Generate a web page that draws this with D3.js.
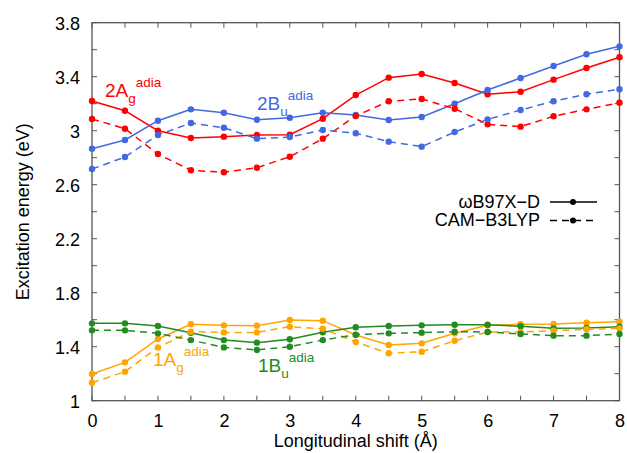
<!DOCTYPE html>
<html>
<head>
<meta charset="utf-8">
<script src="https://cdn.jsdelivr.net/npm/d3@7"></script>
<style>
  html, body { margin: 0; padding: 0; background: #fff; }
  svg { display: block; font-family: "Liberation Sans", Arial, Helvetica, sans-serif; }
</style>
</head>
<body>
<svg id="chart" width="627" height="453"></svg>
<script>
// ---- data ----
const shifts = [0, 0.5, 1, 1.5, 2, 2.5, 3, 3.5, 4, 4.5, 5, 5.5, 6, 6.5, 7, 7.5, 8];

const ag2_wb97xd = [3.22, 3.148, 3.0, 2.946, 2.956, 2.968, 2.97, 3.089, 3.264, 3.393, 3.42, 3.353, 3.27, 3.289, 3.378, 3.464, 3.544];
const ag2_camb3lyp = [3.087, 3.015, 2.827, 2.707, 2.692, 2.726, 2.807, 2.941, 3.109, 3.218, 3.235, 3.163, 3.047, 3.03, 3.107, 3.158, 3.207];
const bu2_wb97xd = [2.867, 2.931, 3.074, 3.158, 3.133, 3.081, 3.096, 3.133, 3.116, 3.079, 3.101, 3.2, 3.301, 3.39, 3.479, 3.566, 3.625];
const bu2_camb3lyp = [2.716, 2.805, 2.968, 3.057, 3.022, 2.941, 2.953, 3.005, 2.981, 2.919, 2.882, 2.99, 3.084, 3.153, 3.218, 3.27, 3.307];
const ag1_wb97xd = [1.198, 1.284, 1.457, 1.566, 1.558, 1.556, 1.598, 1.593, 1.487, 1.413, 1.425, 1.499, 1.558, 1.566, 1.568, 1.578, 1.585];
const ag1_camb3lyp = [1.133, 1.215, 1.395, 1.511, 1.506, 1.506, 1.548, 1.533, 1.435, 1.351, 1.363, 1.444, 1.509, 1.509, 1.519, 1.529, 1.536];
const bu1_wb97xd = [1.573, 1.573, 1.553, 1.503, 1.449, 1.43, 1.455, 1.507, 1.544, 1.553, 1.558, 1.563, 1.563, 1.551, 1.536, 1.538, 1.548];
const bu1_camb3lyp = [1.521, 1.521, 1.499, 1.449, 1.395, 1.376, 1.4, 1.449, 1.489, 1.499, 1.504, 1.511, 1.509, 1.494, 1.482, 1.482, 1.494];

const xTickLabels = [0, 1, 2, 3, 4, 5, 6, 7, 8];
const yTickLabels = [1, 1.4, 1.8, 2.2, 2.6, 3, 3.4, 3.8];
const methods = ["ωB97X−D", "CAM−B3LYP"];

const series = [
  { name: "2Ag", values: ag2_wb97xd, color: "#ff0000", method: 0 },
  { name: "2Bu", values: bu2_wb97xd, color: "#4169e1", method: 0 },
  { name: "1Ag", values: ag1_wb97xd, color: "#ffa500", method: 0 },
  { name: "1Bu", values: bu1_wb97xd, color: "#228b22", method: 0 },
  { name: "2Ag", values: ag2_camb3lyp, color: "#ff0000", method: 1 },
  { name: "2Bu", values: bu2_camb3lyp, color: "#4169e1", method: 1 },
  { name: "1Ag", values: ag1_camb3lyp, color: "#ffa500", method: 1 },
  { name: "1Bu", values: bu1_camb3lyp, color: "#228b22", method: 1 }
];

// ---- layout ----
const L = 92, R = 619.5, T = 22.7, B = 400.7;
const FS = 18;
const svg = d3.select("#chart");

const x = d3.scaleLinear().domain([0, 8]).range([L, R]);
const y = d3.scaleLinear().domain([1, 3.8]).range([B, T]);

const frameColor = "#555";
const tickLen = 5;

const xTicksAll = d3.range(0, 8.001, 0.5);
const yTicksAll = d3.range(1, 3.801, 0.2);

// bottom axis labels
const bottom = d3.axisBottom(x).tickValues(xTickLabels).tickSize(0).tickPadding(0).tickFormat(d3.format("d"));
const gb = svg.append("g").attr("transform", `translate(0,${B})`).call(bottom);
gb.select(".domain").remove();
gb.selectAll("text").attr("font-size", FS).attr("fill", "#000").attr("dy", null).attr("y", 26)
  .attr("font-family", "Liberation Sans, Arial, sans-serif");

// left axis labels
const left = d3.axisLeft(y).tickValues(yTickLabels).tickSize(0).tickPadding(12).tickFormat(d => String(+d.toFixed(1)));
const gl = svg.append("g").attr("transform", `translate(${L},0)`).call(left);
gl.select(".domain").remove();
gl.selectAll("text").attr("font-size", FS).attr("fill", "#000").attr("dy", "0.36em")
  .attr("font-family", "Liberation Sans, Arial, sans-serif");

// tick marks inward on all 4 sides
const tk = svg.append("g").attr("stroke", frameColor).attr("stroke-width", 1);
xTicksAll.forEach(v => {
  tk.append("line").attr("x1", x(v)).attr("x2", x(v)).attr("y1", B).attr("y2", B - tickLen);
  tk.append("line").attr("x1", x(v)).attr("x2", x(v)).attr("y1", T).attr("y2", T + tickLen);
});
yTicksAll.forEach(v => {
  tk.append("line").attr("y1", y(v)).attr("y2", y(v)).attr("x1", L).attr("x2", L + tickLen);
  tk.append("line").attr("y1", y(v)).attr("y2", y(v)).attr("x1", R).attr("x2", R - tickLen);
});

// frame
svg.append("rect").attr("x", L).attr("y", T).attr("width", R - L).attr("height", B - T)
  .attr("fill", "none").attr("stroke", frameColor).attr("stroke-width", 1.3);

// axis titles
svg.append("text").attr("x", (L + R) / 2).attr("y", 447).attr("text-anchor", "middle")
  .attr("font-size", FS).text("Longitudinal shift (Å)");
svg.append("text").attr("transform", `translate(29,${(T + B) / 2}) rotate(-90)`).attr("text-anchor", "middle")
  .attr("font-size", FS).text("Excitation energy (eV)");

// lines
const lineGen = d3.line().x((d, i) => x(shifts[i])).y(d => y(d));
const dash = "7,5";
const gLines = svg.append("g");
series.forEach(s => {
  gLines.append("path").attr("d", lineGen(s.values)).attr("fill", "none")
    .attr("stroke", s.color).attr("stroke-width", 1.5)
    .attr("stroke-dasharray", s.method === 1 ? dash : null);
  gLines.selectAll(null).data(s.values).enter().append("circle")
    .attr("cx", (d, i) => x(shifts[i])).attr("cy", d => y(d)).attr("r", 3.2)
    .attr("fill", s.color);
});

// state labels
function stateLabel(px, py, main, sub, color) {
  const t = svg.append("text").attr("x", px).attr("y", py).attr("fill", color).attr("font-size", 19);
  t.append("tspan").text(main);
  t.append("tspan").attr("font-size", 13.5).attr("dy", 5.5).text(sub);
  t.append("tspan").attr("font-size", 13.5).attr("dy", -15.5).text("adia");
}
stateLabel(105, 97, "2A", "g", "#ff0000");
stateLabel(257, 110, "2B", "u", "#4169e1");
stateLabel(153, 366, "1A", "g", "#ffa500");
stateLabel(258, 372, "1B", "u", "#228b22");

// legend
const legY = [202, 220.5];
methods.forEach((m, i) => {
  svg.append("text").attr("x", 540).attr("y", legY[i] + 5.5).attr("text-anchor", "end")
    .attr("font-size", FS).text(m);
  svg.append("line").attr("x1", 550).attr("x2", 597).attr("y1", legY[i]).attr("y2", legY[i])
    .attr("stroke", "#000").attr("stroke-width", 1.5)
    .attr("stroke-dasharray", i === 1 ? dash : null);
  svg.append("circle").attr("cx", 573).attr("cy", legY[i]).attr("r", 3).attr("fill", "#000");
});
</script>
</body>
</html>
